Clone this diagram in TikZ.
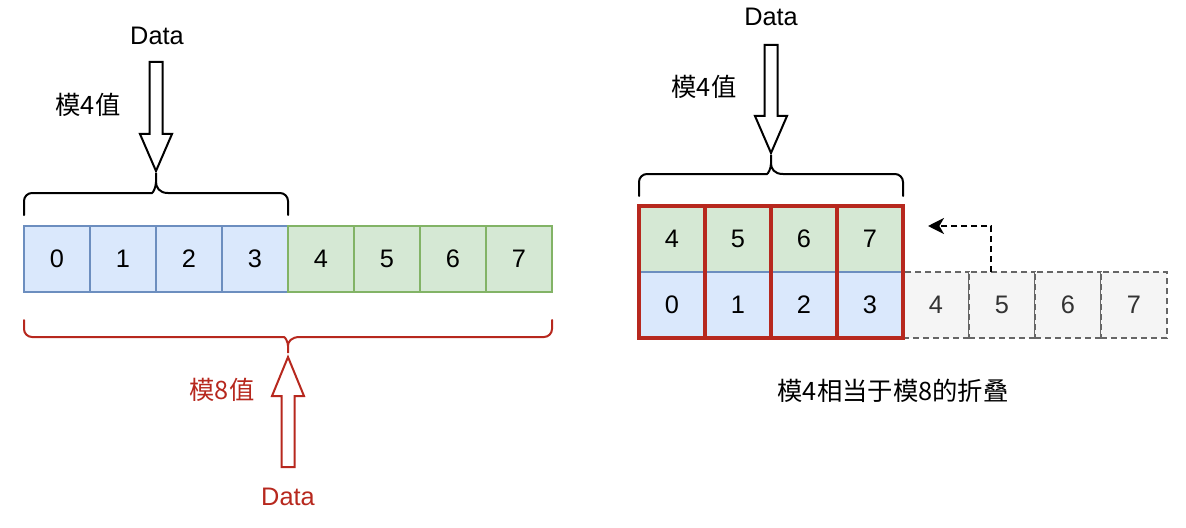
\documentclass[tikz,border=0pt]{standalone}
\usepackage{fontspec}
\setmainfont{Liberation Sans}
\newfontfamily\cjk{Noto Sans CJK SC}
\usetikzlibrary{positioning,arrows.meta,fit}
\definecolor{lanfill}{HTML}{DAE8FC}
\definecolor{lanline}{HTML}{6C8EBF}
\definecolor{lvfill}{HTML}{D5E8D4}
\definecolor{lvline}{HTML}{82B366}
\definecolor{huifill}{HTML}{F5F5F5}
\definecolor{huiline}{HTML}{666666}
\definecolor{huitext}{HTML}{333333}
\definecolor{hong}{HTML}{B7281E}
% curly bracket: [style]{x left}{x tip}{x right}{y ends}{y line}{y tip}
\newcommand{\zbrace}[7][]{%
  \draw[brace,#1] (#2,#5) [rounded corners=6pt] |- ({#3-12},#6) [sharp corners]
    .. controls ({#3-3},#6) and (#3,{#6+0.3*(#7-#6)}) .. (#3,{#6+0.55*(#7-#6)}) -- (#3,#7)
    -- (#3,{#6+0.55*(#7-#6)}) .. controls (#3,{#6+0.3*(#7-#6)}) and ({#3+3},#6) .. ({#3+12},#6)
    [rounded corners=6pt] -| (#4,#5);}
% block arrow: [style]{x centre}{y tail}{y head base}{y tip}
\newcommand{\blockarrow}[5][]{%
  \draw[barrow,#1] ({#2-6.5},#3) -- ({#2+6.5},#3) -- ({#2+6.5},#4) -- ({#2+16},#4)
    -- (#2,#5) -- ({#2-16},#4) -- ({#2-6.5},#4) -- cycle;}

\begin{document}
\begin{tikzpicture}[x=0.75pt, y=-0.75pt,
    font=\fontsize{19pt}{22pt}\selectfont,
    cell/.style={minimum width=49.5pt, minimum height=49.5pt, inner sep=0pt,
                 outer sep=0pt, line width=1.4pt},
    lan/.style={cell, fill=lanfill, draw=lanline},
    lv/.style={cell, fill=lvfill, draw=lvline},
    hui/.style={cell, fill=huifill, draw=huiline, text=huitext, dashed,
                dash pattern=on 4.5pt off 3pt},
    hongbox/.style={draw=hong, line width=3pt, inner sep=0pt},
    brace/.style={line width=1.5pt, line cap=round},
    barrow/.style={line width=1.5pt, line join=miter, fill=white}]
  \useasboundingbox (0,0) rectangle (1186,528);

  % left: mod 8 row
  \foreach \i in {0,...,3}
    \node[lan] (l\i) at ({57+66*\i},259) {\i};
  \foreach \i in {4,...,7}
    \node[lv] (l\i) at ({57+66*\i},259) {\i};

  \zbrace{24}{156}{288}{215}{193}{173}
  \blockarrow{156}{62}{134}{171}
  \node (data1) at (157,36) {Data};
  \node (mo4a) at (88,105) {\cjk 模4值};

  \zbrace[hong]{24}{288}{552}{320}{337}{353}
  \blockarrow[draw=hong]{288}{467}{396}{357}
  \node[text=hong] (mo8) at (222,390) {\cjk 模8值};
  \node[text=hong] (data2) at (288,497) {Data};

  % right: folding
  \foreach \i/\v in {0/4,1/5,2/6,3/7} {
    \node[lv] (g\i) at ({672+66*\i},239) {\v};
    \node[lan] (b\i) at ({672+66*\i},305) {\i};
  }
  \foreach \i/\v in {0/4,1/5,2/6,3/7}
    \node[hui] (r\i) at ({936+66*\i},305) {\v};
  \foreach \i in {0,...,3}
    \node[hongbox, fit=(g\i)(b\i)] (col\i) {};

  \zbrace{639}{771}{903}{196}{174}{155}
  \blockarrow{771}{45}{116}{153}
  \node (data3) at (771,17) {Data};
  \node (mo4b) at (704,87) {\cjk 模4值};

  \coordinate (fold) at (928,226);
  \draw[line width=1.4pt, dash pattern=on 4.5pt off 3pt,
        -{Stealth[length=12pt, width=12pt, inset=3.5pt]}]
    ([xshift=-8pt]r1.north) |- (fold);

  \node (shuoming) at (893,391) {\cjk 模4相当于模8的折叠};
\end{tikzpicture}
\end{document}
